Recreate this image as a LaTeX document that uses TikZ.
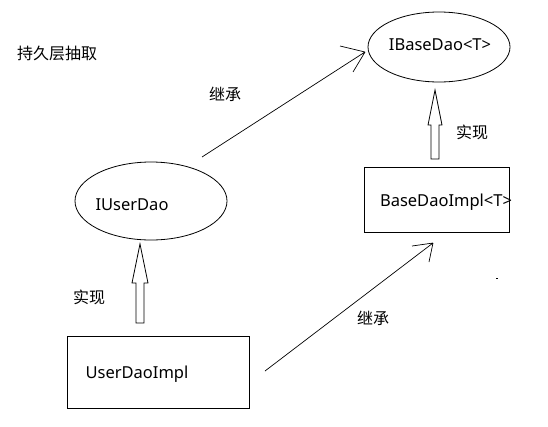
\documentclass[tikz,border=0pt]{standalone}
\usepackage{fontspec}
\usetikzlibrary{shapes.geometric}
\setmainfont{Noto Sans}
\newfontfamily\cjk{Noto Sans CJK SC}
\begin{document}
\begin{tikzpicture}[x=1pt,y=-1pt,
  zh/.style={font=\cjk\fontsize{16}{18}\selectfont, inner sep=0pt},
  en/.style={font=\fontsize{16.5}{18}\selectfont, inner sep=0pt},
  oval/.style={draw, ellipse, line width=0.8pt, inner sep=0pt},
  boxnode/.style={draw, rectangle, line width=1pt, inner sep=0pt},
  thin/.style={line width=0.7pt},
  hollow/.style={draw, line width=0.8pt, fill=white, line join=miter}]
\useasboundingbox (0,0) rectangle (548,426);
% title
\node[zh, anchor=west] (title) at (17,53) {持久层抽取};
% ellipses
\node[oval, minimum width=142pt, minimum height=70pt] (ibase) at (439,47) {};
\node[en] (ibaset) at (440,45) {IBaseDao<T>};
\node[oval, minimum width=152pt, minimum height=78pt] (iuser) at (151,201) {};
\node[en] (iusert) at (132,205) {IUserDao};
% boxes
\node[boxnode, minimum width=145pt, minimum height=65pt] (baseimpl) at (436.5,199.5) {};
\node[en] (baseimplt) at (446,202) {BaseDaoImpl<T>};
\node[boxnode, minimum width=182pt, minimum height=72pt] (userimpl) at (158,372) {};
\node[en] (userimplt) at (137,374) {UserDaoImpl};
% inheritance arrows (open, hand drawn heads)
\coordinate (a1s) at (202,157);
\coordinate (a1t) at (365,52);
\draw[thin] (a1s) -- (a1t) (a1t) -- (340,46) (a1t) -- (353,72);
\node[zh] (inh1) at (225,94) {继承};
\coordinate (a2s) at (265,371);
\coordinate (a2t) at (433,243);
\draw[thin] (a2s) -- (a2t) (a2t) -- (412,246) (a2t) -- (429,262);
\node[zh] (inh2) at (373,318) {继承};
% realization arrows (hollow block)
\draw[hollow] (140,244) -- (148,283) -- (144,283) -- (144,323) -- (136,323) -- (136,283) -- (132,283) -- cycle;
\node[zh] (impl1) at (89,297) {实现};
\draw[hollow] (435,90) -- (442,125) -- (439,125) -- (439,159) -- (431,159) -- (431,125) -- (428,125) -- cycle;
\node[zh] (impl2) at (472,132) {实现};
% stray mark
\draw[line width=0.8pt] (496,278) -- (498,278);
\end{tikzpicture}
\end{document}
